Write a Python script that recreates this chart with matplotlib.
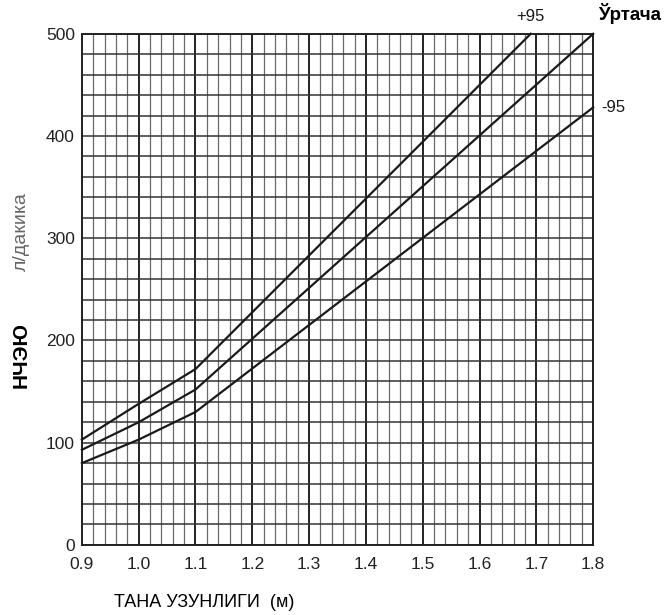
import numpy as np
import matplotlib.pyplot as plt

plt.rcParams['font.family'] = ['Liberation Sans', 'DejaVu Sans']
NARROW = ['Liberation Sans Narrow', 'Liberation Sans', 'DejaVu Sans']

# growth curves (length in m, value per minute)
length_upper = [0.9, 1.0, 1.1, 1.69]
upper_95 = [103, 138, 172, 500]
length_mean = [0.9, 1.0, 1.1, 1.8]
mean_vals = [93, 120, 152, 500]
length_lower = [0.9, 1.0, 1.1, 1.8]
lower_95 = [80, 103, 130, 428]

x_ticks = [0.9, 1.0, 1.1, 1.2, 1.3, 1.4, 1.5, 1.6, 1.7, 1.8]
y_ticks = [0, 100, 200, 300, 400, 500]

fig = plt.figure(figsize=(6.71, 6.15), dpi=100)
ax = fig.add_axes([0.122, 0.114, 0.762, 0.831])

ax.set_xlim(0.9, 1.8)
ax.set_ylim(0, 500)

# graph paper grid
for xv in np.arange(0.9, 1.8001, 0.02):
    major = abs(round(xv * 10) - xv * 10) < 1e-6
    ax.axvline(xv, color='#222222' if major else '#6a6a6a',
               lw=1.4 if major else 0.9, zorder=1)
for yv in np.arange(0, 500.1, 20):
    ax.axhline(yv, color='#333333', lw=1.1, zorder=1)

for xs, ys in [(length_upper, upper_95), (length_mean, mean_vals), (length_lower, lower_95)]:
    ax.plot(xs, ys, color='#1a1a1a', lw=1.6, zorder=3, clip_on=False)

ax.set_xticks(x_ticks)
ax.set_xticklabels([f'{v:.1f}' for v in x_ticks], family=NARROW, fontsize=12.5)
ax.set_yticks(y_ticks)
ax.set_yticklabels([str(v) for v in y_ticks], family=NARROW, fontsize=12.5)
ax.tick_params(axis='x', length=0, colors='#222222', pad=9)
ax.tick_params(axis='y', length=0, colors='#222222', pad=5)
for s in ax.spines.values():
    s.set_color('#222222')
    s.set_linewidth(1.4)

ax.text(1.69, 510, '+95', fontsize=12, ha='center', va='bottom', color='#1a1a1a',
        family=NARROW)
ax.text(1.865, 510, 'Ўртача', fontsize=13.5, fontweight='bold', ha='center', va='bottom')
ax.text(1.815, 428, '-95', fontsize=12, ha='left', va='center', color='#1a1a1a',
        family=NARROW)

fig.text(0.032, 0.423, 'НЧЭЮ', rotation=90, fontsize=15, fontweight='bold',
         ha='center', va='center')
fig.text(0.032, 0.623, 'л/дакика', rotation=90, fontsize=14, color='#666666',
         ha='center', va='center', family=NARROW)
fig.text(0.305, 0.02, 'ТАНА УЗУНЛИГИ  (м)', fontsize=13, ha='center', va='center')

fig.savefig('out.png', dpi=100)
